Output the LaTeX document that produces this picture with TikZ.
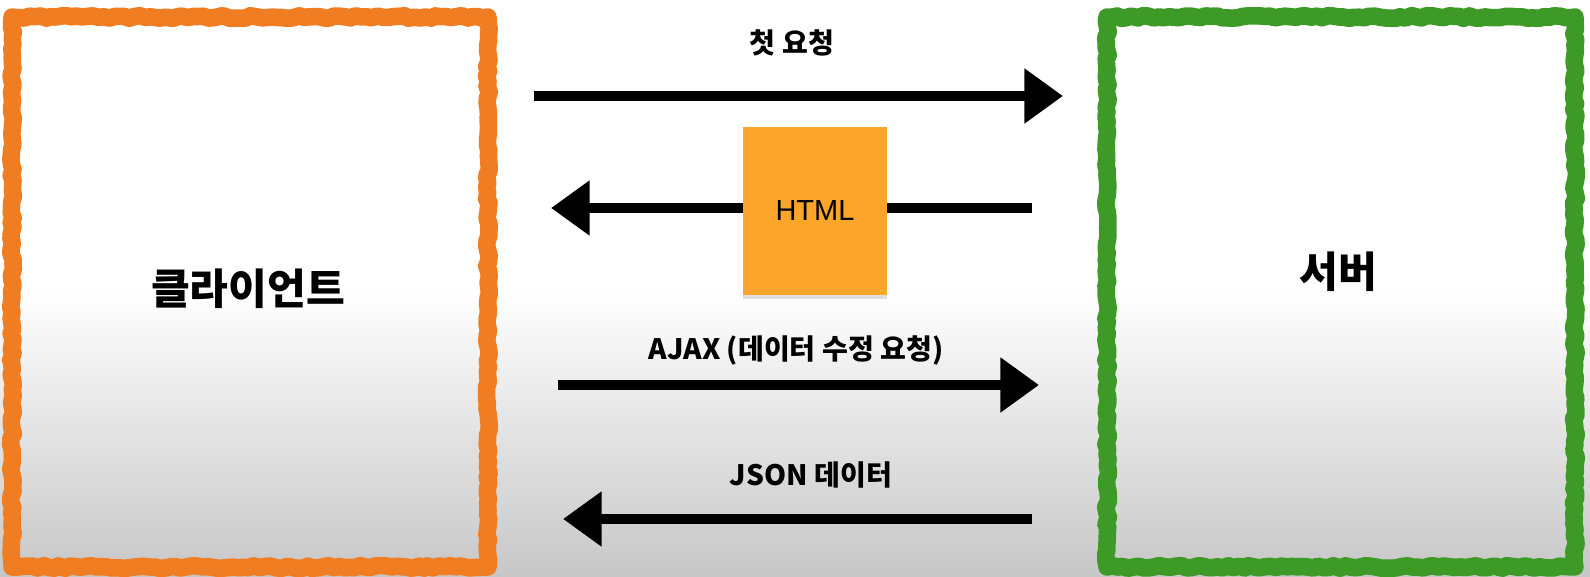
\documentclass[tikz,border=0pt]{standalone}
\usepackage{fontspec}
\setmainfont{Noto Sans CJK KR}
\newfontfamily\htmlfont{Liberation Sans}
\usetikzlibrary{arrows.meta,shadows,decorations.pathmorphing}
\definecolor{clientorange}{HTML}{F07D21}
\definecolor{servergreen}{HTML}{3E9A27}
\definecolor{htmlfill}{HTML}{FBA62A}
\tikzset{
  frame/.style={draw=#1,line width=10pt,line join=round,decorate,
    decoration={random steps,segment length=3pt,amplitude=0.8pt}},
  flow/.style={line width=5.7pt,-{Triangle[length=22pt,width=30pt]}},
  msg/.style={font=\bfseries\fontsize{16}{18}\selectfont},
  party/.style={font=\bfseries\fontsize{24}{28}\selectfont}
}
\begin{document}
\begin{tikzpicture}[x=0.02cm,y=-0.02cm]
  \useasboundingbox (0,0) rectangle (1590,577);
  \shade[top color=white,bottom color=black!22,middle color=white] (0,0) rectangle (1590,577);
  % client and server
  \node[frame=clientorange,minimum width=9.52cm,minimum height=11cm] (client) at (250,292) {};
  \node[frame=servergreen,minimum width=9.36cm,minimum height=11cm] (server) at (1341,292) {};
  \node[party] (client-name) at (248,289) {클라이언트};
  \node[party] (server-name) at (1338,272) {서버};
  % messages
  \coordinate (req-a) at (534,96);
  \coordinate (req-b) at (1063,96);
  \coordinate (html-a) at (1032,208);
  \coordinate (html-b) at (551,208);
  \coordinate (ajax-a) at (558,385);
  \coordinate (ajax-b) at (1039,385);
  \coordinate (json-a) at (1032,519);
  \coordinate (json-b) at (563,519);
  \draw[flow] (req-a) -- (req-b);
  \draw[flow] (html-a) -- (html-b);
  \draw[flow] (ajax-a) -- (ajax-b);
  \draw[flow] (json-a) -- (json-b);
  \node[fill=htmlfill,minimum width=2.88cm,minimum height=3.38cm,
    drop shadow={opacity=0.25,shadow xshift=0pt,shadow yshift=-2pt},
    font=\htmlfont\fontsize{16.5}{18}\selectfont] (html) at (815,211) {HTML};
  \node[msg] (req-label) at (792,43) {첫 요청};
  \node[msg] (ajax-label) at (796,350) {AJAX (데이터 수정 요청)};
  \node[msg] (json-label) at (811,475) {JSON 데이터};
\end{tikzpicture}
\end{document}
